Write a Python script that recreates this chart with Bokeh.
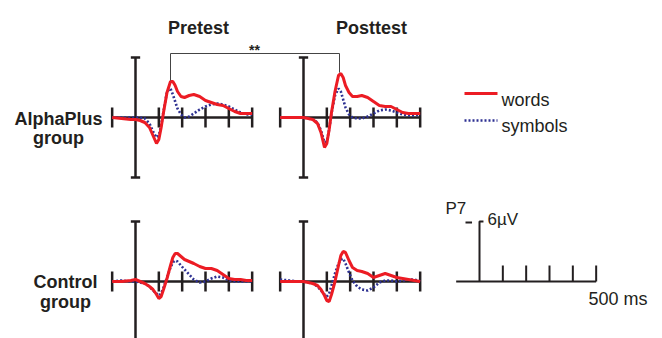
from bokeh.plotting import figure
from bokeh.models import Range1d
from bokeh.core.properties import value
from bokeh.embed import file_html
from bokeh.resources import INLINE

# ---------------- data (µV, negative plotted upward) ----------------
times = [-100, -60, -20, 0, 20, 40, 60, 75, 90, 100, 110, 120, 135, 150, 160, 170,
         180, 195, 210, 230, 250, 275, 300, 325, 350, 375, 400, 425, 450, 475, 500]

ap_pre_words = [0.0, 0.1, 0.2, 0.2, 0.3, 0.5, 1.0, 1.8, 2.6, 2.2, 1.0, -0.5, -2.5, -3.6, -3.6, -3.2,
                -2.6, -2.1, -2.0, -2.2, -2.3, -2.1, -1.7, -1.5, -1.3, -1.2, -0.9, -0.6, -0.4, -0.4, -0.4]
ap_pre_symbols = [0.0, 0.0, 0.0, 0.0, 0.0, 0.1, 0.6, 1.4, 2.0, 1.8, 0.8, -0.6, -2.6, -2.9, -2.3, -1.6,
                  -0.9, -0.3, 0.0, -0.1, -0.4, -0.8, -1.1, -1.3, -1.4, -1.3, -1.1, -0.8, -0.5, -0.3, -0.3]
ap_post_words = [0.0, 0.0, 0.0, 0.0, 0.1, 0.2, 0.6, 1.5, 3.0, 2.6, 1.2, -0.5, -2.6, -4.2, -4.4, -4.0,
                 -3.2, -2.5, -2.1, -2.1, -2.2, -2.0, -1.6, -1.2, -1.1, -1.1, -0.8, -0.5, -0.4, -0.4, -0.4]
ap_post_symbols = [0.0, 0.0, 0.0, 0.0, 0.1, 0.2, 0.5, 1.3, 2.5, 2.4, 1.2, -0.4, -2.2, -2.9, -2.6, -1.8,
                   -1.0, -0.3, 0.0, 0.1, 0.1, -0.1, -0.4, -0.7, -0.8, -0.7, -0.5, -0.3, -0.2, -0.2, -0.3]
ctrl_pre_words = [0.0, 0.0, -0.1, -0.2, 0.0, 0.2, 0.5, 0.8, 1.3, 1.7, 1.5, 0.8, -0.3, -1.6, -2.4, -2.8,
                  -2.8, -2.5, -2.2, -2.0, -1.8, -1.5, -1.3, -1.3, -1.1, -0.7, -0.3, -0.2, -0.2, -0.1, -0.1]
ctrl_pre_symbols = [0.0, -0.1, 0.0, 0.0, 0.1, 0.2, 0.5, 0.9, 1.2, 1.4, 1.2, 0.6, -0.4, -1.4, -1.9, -2.1,
                    -2.0, -1.6, -1.2, -0.7, -0.2, 0.1, 0.0, -0.3, -0.5, -0.4, -0.1, 0.0, 0.0, 0.0, 0.0]
ctrl_post_words = [0.0, 0.0, 0.0, 0.0, 0.1, 0.2, 0.4, 0.8, 1.4, 1.9, 2.0, 1.3, 0.0, -1.6, -2.6, -3.0,
                   -2.9, -2.1, -1.4, -1.1, -1.0, -0.8, -0.4, -0.6, -0.8, -0.6, -0.4, -0.3, -0.2, -0.1, 0.0]
ctrl_post_symbols = [-0.2, -0.1, 0.0, 0.0, 0.1, 0.2, 0.5, 0.9, 1.3, 1.5, 1.2, 0.4, -0.8, -1.8, -2.2, -2.3,
                     -1.8, -0.9, -0.1, 0.5, 0.8, 0.9, 0.6, 0.1, -0.1, -0.1, 0.0, -0.1, -0.2, -0.2, 0.0]

axis_ticks_ms = [-100, 100, 200, 300, 400, 500]
scale_ticks_ms = [100, 200, 300, 400, 500]
col_titles = ["Pretest", "Posttest"]
row_titles = [["AlphaPlus", "group"], ["Control", "group"]]
legend_labels = ["words", "symbols"]
significance = "**"
scale_label = "6µV"
time_label = "500 ms"
electrode = "P7"

# ---------------- styling / layout ----------------
RED = "#ec1c24"
BLUE = "#2e3192"
INK = "#231f20"
FONT = value("Liberation Sans")

W, H = 662, 338
X0, Y0 = 0, 0
PX_PER_MS = 140.0 / 600.0
PX_PER_UV = 10.0

panels = {
    "ap_pre": (135, 117),
    "ap_post": (303, 117),
    "ctrl_pre": (135, 281),
    "ctrl_post": (303, 281),
    "scale": (479, 281),
}

xr, yr = {}, {}
for name, (ox, oy) in panels.items():
    xr[name + "_x"] = Range1d((X0 - ox) / PX_PER_MS, (X0 + W - ox) / PX_PER_MS)
    yr[name + "_y"] = Range1d((Y0 + H - oy) / PX_PER_UV, (Y0 - oy) / PX_PER_UV)

p = figure(width=W, height=H, x_range=Range1d(X0, X0 + W), y_range=Range1d(Y0 + H, Y0),
           x_axis_type=None, y_axis_type=None, output_backend="svg",
           toolbar_location=None, min_border=0,
           extra_x_ranges=xr, extra_y_ranges=yr)
p.outline_line_color = None
p.background_fill_color = "white"
p.border_fill_color = "white"


def kw(name):
    return dict(x_range_name=name + "_x", y_range_name=name + "_y")


def draw_panel(name, words, symbols):
    k = kw(name)
    p.line([-100, 500], [0, 0], line_color=INK, line_width=2.5, **k)
    n = len(axis_ticks_ms)
    p.segment(x0=axis_ticks_ms, y0=[-1] * n, x1=axis_ticks_ms, y1=[1] * n,
              line_color=INK, line_width=2.5, **k)
    p.segment(x0=[0], y0=[-6], x1=[0], y1=[6], line_color=INK, line_width=2.5, **k)
    p.segment(x0=[-20, -20], y0=[-6, 6], x1=[20, 20], y1=[-6, 6],
              line_color=INK, line_width=2.5, **k)
    p.line(times, symbols, line_color=BLUE, line_width=2.6, line_dash="2 2", **k)
    p.line(times, words, line_color=RED, line_width=3, **k)


draw_panel("ap_pre", ap_pre_words, ap_pre_symbols)
draw_panel("ap_post", ap_post_words, ap_post_symbols)
draw_panel("ctrl_pre", ctrl_pre_words, ctrl_pre_symbols)
draw_panel("ctrl_post", ctrl_post_words, ctrl_post_symbols)

# scale bar
k = kw("scale")
p.line([-100, 500], [0, 0], line_color=INK, line_width=2, **k)
m = len(scale_ticks_ms)
p.segment(x0=scale_ticks_ms, y0=[0] * m, x1=scale_ticks_ms, y1=[-1.6] * m,
          line_color=INK, line_width=2, **k)
p.line([0, 0, 17], [0, -6, -6], line_color=INK, line_width=2, **k)
p.segment(x0=[-60], y0=[-5.9], x1=[-32], y1=[-5.9], line_color=INK, line_width=2, **k)

# significance bracket
p.line([170, 170, 339, 339], [80, 53, 53, 72], line_color="#444444", line_width=1)
p.text(x=[254], y=[49], text=[significance], text_font=FONT, text_font_size="14px",
       text_font_style="bold", text_color=INK, text_align="center", text_baseline="alphabetic")

# column titles
p.text(x=[198, 371], y=[27, 27], text=col_titles, text_font=FONT, text_font_size="18px",
       text_font_style="bold", text_color=INK, text_align="center", text_baseline="alphabetic")

# row titles
p.text(x=[58, 58], y=[118, 137], text=row_titles[0], text_font=FONT, text_font_size="18px",
       text_font_style="bold", text_color=INK, text_align="center", text_baseline="alphabetic")
p.text(x=[65, 65], y=[281, 301], text=row_titles[1], text_font=FONT, text_font_size="18px",
       text_font_style="bold", text_color=INK, text_align="center", text_baseline="alphabetic")

# legend
p.line([464, 497], [93, 93], line_color=RED, line_width=3)
p.line([464, 497], [120, 120], line_color=BLUE, line_width=2.6, line_dash="2 2")
p.text(x=[501, 501], y=[99, 125], text=legend_labels, text_font=FONT, text_font_size="18px",
       text_color=INK, text_align="left", text_baseline="alphabetic")

# scale labels
p.text(x=[445], y=[208], text=[electrode], text_font=FONT, text_font_size="17px",
       text_color=INK, text_align="left", text_baseline="alphabetic")
p.text(x=[487], y=[219], text=[scale_label], text_font=FONT, text_font_size="17px",
       text_color=INK, text_align="left", text_baseline="alphabetic")
p.text(x=[588], y=[298], text=[time_label], text_font=FONT, text_font_size="18px",
       text_color=INK, text_align="left", text_baseline="alphabetic")

open("out.html", "w").write(file_html(p, INLINE))
